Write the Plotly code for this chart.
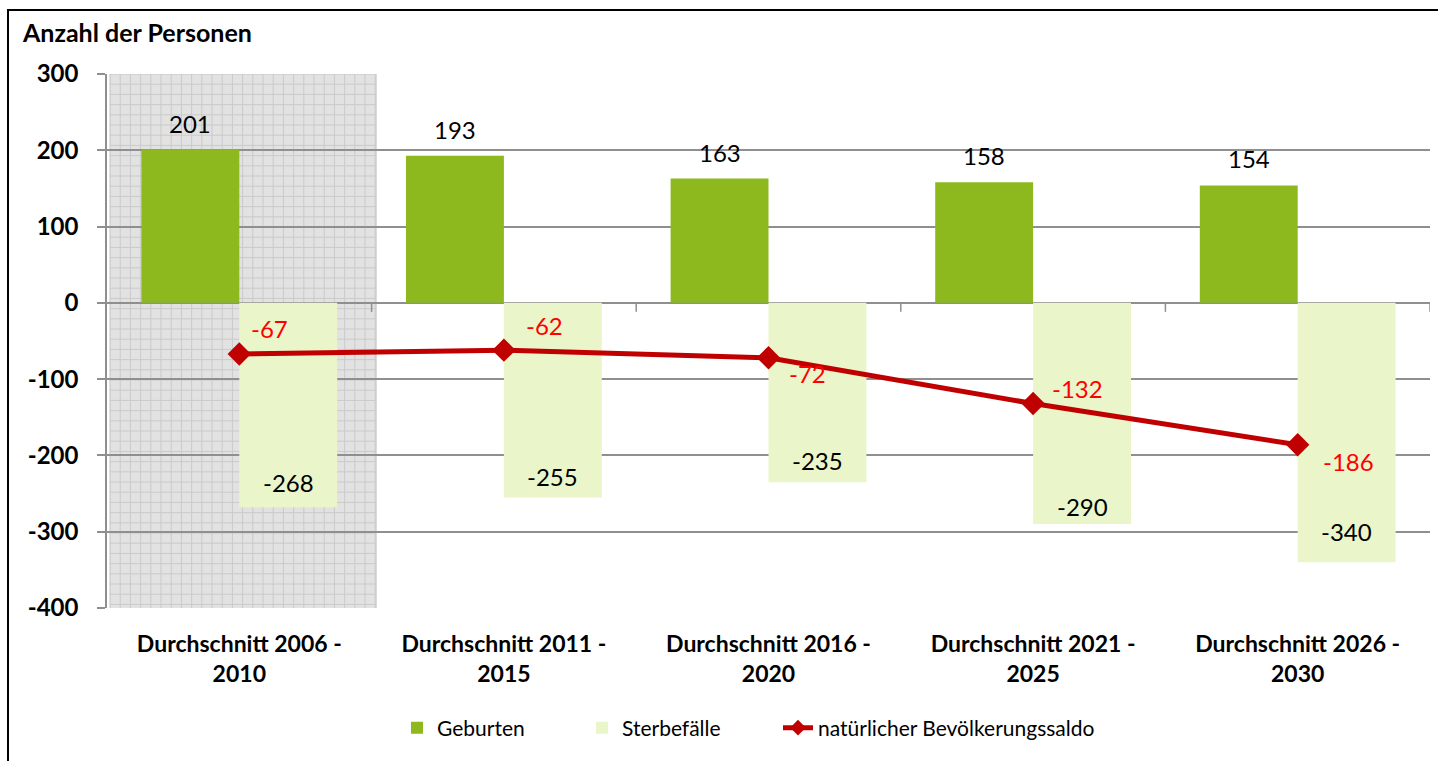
import plotly.graph_objects as go

# ---------------- data ----------------
categories = ["Durchschnitt 2006 -<br>2010", "Durchschnitt 2011 -<br>2015",
              "Durchschnitt 2016 -<br>2020", "Durchschnitt 2021 -<br>2025",
              "Durchschnitt 2026 -<br>2030"]
geburten = [201, 193, 163, 158, 154]
sterbefaelle = [-268, -255, -235, -290, -340]
saldo = [-67, -62, -72, -132, -186]
y_ticks = [300, 200, 100, 0, -100, -200, -300, -400]

# ---------------- geometry / style ----------------
W, H = 1438, 761
L, R, T, B = 107, 8, 74, 153
PW, PH = W - L - R, H - T - B
Y0, Y1 = -400, 300
pxy = PH / (Y1 - Y0)          # px per y unit
pxx = PW / len(categories)    # px per category
FONT = "Lato"
GREEN = "#8DB91F"
LIGHT = "#EAF5CA"
RED = "#C00000"
GRID = "#8F8F8F"

x = list(range(len(categories)))

fig = go.Figure()
fig.add_bar(x=x, y=geburten, name="Geburten", marker=dict(color=GREEN, line_width=0),
            legend="legend", showlegend=True)
fig.add_bar(x=x, y=sterbefaelle, name="Sterbefälle", marker=dict(color=LIGHT, line_width=0),
            legend="legend2", showlegend=True)
fig.add_scatter(x=x, y=saldo, mode="lines+markers", name="natürlicher Bevölkerungssaldo",
                line=dict(color=RED, width=5),
                marker=dict(symbol="diamond", size=18, color=RED), legend="legend3",
                showlegend=True)

shapes = []
# shaded (historic) region behind first category
sx0 = -0.5 + 3 / pxx
sx1 = 0.5 + 4.5 / pxx
sy0 = Y0 - 5 / pxy
sy1 = Y1
shapes.append(dict(type="rect", xref="x", yref="y", x0=sx0, x1=sx1, y0=sy0, y1=sy1,
                   fillcolor="#E2E2E2", line=dict(color="#C4C4C4", width=1), layer="below"))
path = []
step_x = 10.2 / pxx
xx = sx0 + step_x
while xx < sx1 - 1e-6:
    path.append(f"M{xx},{sy0} L{xx},{sy1}")
    xx += step_x
step_y = 10.2 / pxy
yy = sy1 - step_y
while yy > sy0 + 1e-6:
    path.append(f"M{sx0},{yy} L{sx1},{yy}")
    yy -= step_y
shapes.append(dict(type="path", xref="x", yref="y", path=" ".join(path),
                   line=dict(color="#CACACA", width=1), layer="below"))
# category boundary tick marks on the zero line
for b in [i + 0.5 for i in x]:
    shapes.append(dict(type="line", xref="x", yref="y", x0=b, x1=b, y0=0, y1=-9 / pxy,
                       line=dict(color=GRID, width=1.5)))
# outer frame
shapes.append(dict(type="rect", xref="paper", yref="paper",
                   x0=(8 - L) / PW, x1=1.05, y0=-0.5, y1=1 + (T - 10) / PH,
                   line=dict(color="#000000", width=2), fillcolor="rgba(0,0,0,0)", layer="above"))

annotations = []
annotations.append(dict(text="<b>Anzahl der Personen</b>", xref="paper", yref="paper",
                        x=(20 - L) / PW, y=1 + (T - 32) / PH, xanchor="left", yanchor="middle",
                        showarrow=False, font=dict(family=FONT, size=25, color="#000")))
bar_off = 0.185 * pxx
for i, v in enumerate(geburten):
    annotations.append(dict(x=i, y=v, xref="x", yref="y", text=str(v), showarrow=False,
                            xshift=-bar_off, yshift=26.5, yanchor="middle",
                            font=dict(family=FONT, size=24, color="#000")))
st_shift = [24.7, 21, 21.7, 18, 30.7]
for i, v in enumerate(sterbefaelle):
    annotations.append(dict(x=i, y=v, xref="x", yref="y", text=str(v), showarrow=False,
                            xshift=bar_off, yshift=st_shift[i], yanchor="middle",
                            font=dict(family=FONT, size=24, color="#000")))
sa_xs = [10, 20, 18, 17, 23]
sa_ys = [25.5, 24.5, -16, 15, -16.5]
for i, v in enumerate(saldo):
    annotations.append(dict(x=i, y=v, xref="x", yref="y", text=str(v), showarrow=False,
                            xshift=sa_xs[i], yshift=sa_ys[i], xanchor="left", yanchor="middle",
                            font=dict(family=FONT, size=24, color="#FF0000")))

leg_y = (H - B - T - (728 - T)) / PH


def leg(px_left):
    return dict(orientation="h", x=(px_left - L) / PW, xanchor="left",
                y=leg_y, yanchor="middle",
                font=dict(family=FONT, size=21, color="#000"), itemsizing="constant",
                bgcolor="rgba(0,0,0,0)")


fig.update_layout(
    width=W, height=H,
    margin=dict(l=L, r=R, t=T, b=B, pad=0),
    paper_bgcolor="white", plot_bgcolor="white",
    showlegend=True,
    barmode="group", bargap=0.26, bargroupgap=0,
    font=dict(family=FONT, color="#000"),
    shapes=shapes, annotations=annotations,
    legend=leg(397), legend2=leg(582), legend3=leg(778),
    xaxis=dict(range=[-0.5, len(categories) - 0.5], tickvals=x,
               ticktext=[f"<b>{c.replace('<br>', '</b><br><b>')}</b>" for c in categories],
               showgrid=False, zeroline=False, showline=False, ticks="",
               tickfont=dict(family=FONT, size=23, color="#000"), ticklabelstandoff=20,
               fixedrange=True),
    yaxis=dict(range=[Y0, Y1], tickvals=y_ticks, ticktext=[f"<b>{t}</b>" for t in y_ticks],
               showgrid=True, gridcolor=GRID, gridwidth=1.5,
               zeroline=True, zerolinecolor=GRID, zerolinewidth=1.5,
               showline=True, linecolor=GRID, linewidth=1.5,
               ticks="outside", ticklen=8, tickcolor=GRID, tickwidth=1.5,
               tickfont=dict(family=FONT, size=24, color="#000"), ticklabelstandoff=14,
               fixedrange=True),
)

fig.write_html("out.html", config={"displayModeBar": False},
               post_script="document.body.style.margin='0';document.body.style.overflow='hidden';")
